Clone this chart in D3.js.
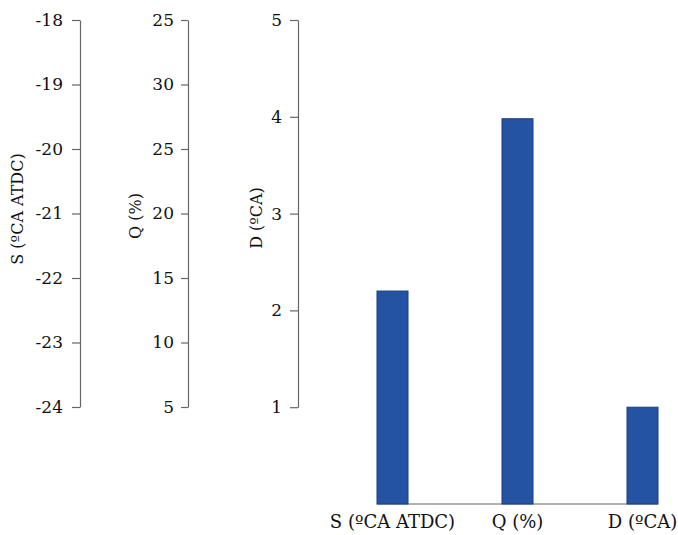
<!DOCTYPE html>
<html><head><meta charset="utf-8">
<script src="https://cdn.jsdelivr.net/npm/d3@7"></script>
<style>
body{margin:0;background:#fff;}
svg{display:block;}
.tick text{font-family:"DejaVu Serif",serif;}
</style></head>
<body><svg id="c" width="678" height="535"></svg>
<script>
const categories = ["S (ºCA ATDC)", "Q (%)", "D (ºCA)"];
const barValues = [2.2, 3.98, 1.0];
const sTicks = [-18, -19, -20, -21, -22, -23, -24];
const qTickValues = [35, 30, 25, 20, 15, 10, 5];
const qTickLabels = ["25", "30", "25", "20", "15", "10", "5"];
const dTicks = [5, 4, 3, 2, 1];
const axisTitles = ["S (ºCA ATDC)", "Q (%)", "D (ºCA)"];

const svg = d3.select("#c");
const font = "DejaVu Serif, serif";
const axisColor = "#666";
const textColor = "#111";

const yTop = 20, yBot = 407;
const sY = d3.scaleLinear().domain([-24, -18]).range([yBot, yTop]);
const qY = d3.scaleLinear().domain([5, 35]).range([yBot, yTop]);
const dY = d3.scaleLinear().domain([0, 5]).range([504, yTop]);
const dAxisScale = d3.scaleLinear().domain([1, 5]).range([dY(1), dY(5)]);

function styleAxis(g) {
  g.select(".domain").attr("stroke", axisColor).attr("stroke-width", 1.2);
  g.selectAll(".tick line").attr("stroke", axisColor).attr("stroke-width", 1.2);
  g.selectAll(".tick text").attr("fill", textColor).attr("font-size", 17).attr("font-family", font);
}

svg.append("g").attr("transform", "translate(80,0)")
  .call(d3.axisLeft(sY).tickValues(sTicks).tickSize(8).tickSizeOuter(0).tickPadding(9)
        .tickFormat(d => String(d).replace("−", "-")))
  .call(styleAxis);

svg.append("g").attr("transform", "translate(188,0)")
  .call(d3.axisLeft(qY).tickValues(qTickValues).tickSize(7).tickSizeOuter(0).tickPadding(7)
        .tickFormat((d, i) => qTickLabels[i]))
  .call(styleAxis);

svg.append("g").attr("transform", "translate(298,0)")
  .call(d3.axisLeft(dAxisScale).tickValues(dTicks).tickSize(8).tickSizeOuter(0).tickPadding(8)
        .tickFormat(d3.format("d")))
  .call(styleAxis);

// axis titles
const titlePos = [[17, 209], [135, 216], [256, 218]];
axisTitles.forEach((t, i) => {
  svg.append("text")
    .attr("transform", `translate(${titlePos[i][0]},${titlePos[i][1]}) rotate(-90)`)
    .attr("text-anchor", "middle").attr("dominant-baseline", "central")
    .attr("font-family", font).attr("font-size", 16).attr("fill", textColor)
    .text(t);
});

// bars
const x = d3.scalePoint().domain(categories).range([392.5, 642.5]);
const bw = 31;
svg.append("line")
  .attr("x1", x(categories[0]) - bw / 2).attr("x2", x(categories[2]) + bw / 2)
  .attr("y1", dY(0)).attr("y2", dY(0))
  .attr("stroke", axisColor).attr("stroke-width", 1.2);

svg.selectAll("rect.bar").data(barValues).join("rect")
  .attr("class", "bar")
  .attr("x", (d, i) => x(categories[i]) - bw / 2)
  .attr("width", bw)
  .attr("y", d => dY(d))
  .attr("height", d => dY(0) - dY(d))
  .attr("fill", "#2453a3").attr("stroke", "#1b3f82").attr("stroke-width", 1);

svg.selectAll("text.cat").data(categories).join("text")
  .attr("class", "cat")
  .attr("x", d => x(d)).attr("y", 528)
  .attr("text-anchor", "middle")
  .attr("font-family", font).attr("font-size", 18).attr("fill", textColor)
  .text(d => d);
</script></body></html>
